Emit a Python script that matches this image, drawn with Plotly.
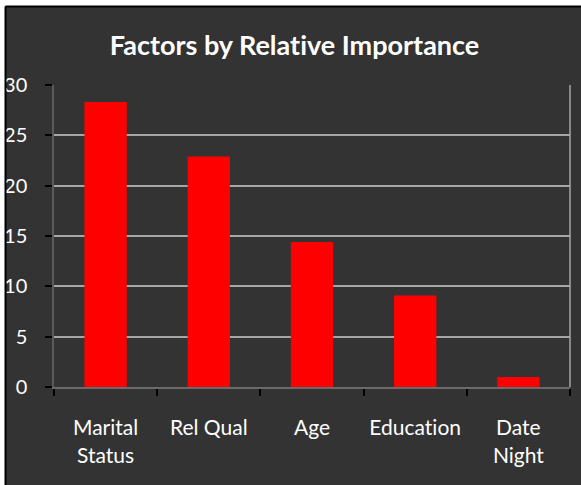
import plotly.graph_objects as go

categories = ["Marital<br>Status", "Rel Qual", "Age", "Educat\u200cion", "Date<br>Night"]
values = [28.3, 22.9, 14.4, 9.1, 1.0]
y_ticks = [0, 5, 10, 15, 20, 25, 30]

BG = "#333333"
W, H = 581, 485
L, R, T, B = 54, 11, 85, 98
pw, ph = W - L - R, H - T - B

def px_x(px):
    return (px - L) / pw

def px_y(py):
    return (H - B - py) / ph

fig = go.Figure(go.Bar(x=categories, y=values, marker=dict(color="#ff0000", line=dict(width=0)), width=0.41))

font = "Lato"
fig.update_layout(
    width=W, height=H,
    margin=dict(l=L, r=R, t=T, b=B, autoexpand=False),
    paper_bgcolor=BG, plot_bgcolor=BG,
    showlegend=False,
    title=dict(text="<b>Factors by Relat\u200cive Importance</b>", x=0.507, xref="container",
               xanchor="center", y=1 - 46 / H, yref="container", yanchor="middle",
               font=dict(family=font, size=27, color="white")),
    xaxis=dict(type="category", ticks="outside", tickson="boundaries", ticklen=7,
               tickcolor="black", tickwidth=1.5, showline=True, linecolor="#6a6a6a", linewidth=2,
               showgrid=False, tickfont=dict(family=font, size=21, color="white"),
               ticklabelstandoff=21, tickangle=0, automargin=False),
    yaxis=dict(range=[0, 30], tickvals=y_ticks, ticks="outside", ticklen=7, tickcolor="black",
               tickwidth=1.5, showline=True, linecolor="#5a5a5a", linewidth=1.5,
               showgrid=True, gridcolor="#a6a6a6", gridwidth=1.5, zeroline=False,
               tickfont=dict(family=font, size=20, color="white"), ticklabelstandoff=14,
               automargin=False),
    shapes=[
        dict(type="line", xref="paper", yref="paper", x0=1, x1=1, y0=0, y1=1,
             line=dict(color="#a6a6a6", width=1.5), layer="above"),
        dict(type="rect", xref="paper", yref="paper", x0=px_x(-5), x1=px_x(W + 5), y0=px_y(-5), y1=px_y(6),
             fillcolor="white", line=dict(width=0), layer="above"),
        dict(type="rect", xref="paper", yref="paper", x0=px_x(-5), x1=px_x(5), y0=px_y(H + 5), y1=px_y(-5),
             fillcolor="white", line=dict(width=0), layer="above"),
        dict(type="line", xref="paper", yref="paper", x0=px_x(5.5), x1=px_x(W + 5), y0=px_y(6.5), y1=px_y(6.5),
             line=dict(color="black", width=2), layer="above"),
        dict(type="line", xref="paper", yref="paper", x0=px_x(5.5), x1=px_x(5.5), y0=px_y(6.5), y1=px_y(H + 5),
             line=dict(color="black", width=2), layer="above"),
    ],
)

fig.write_html("out.html")
